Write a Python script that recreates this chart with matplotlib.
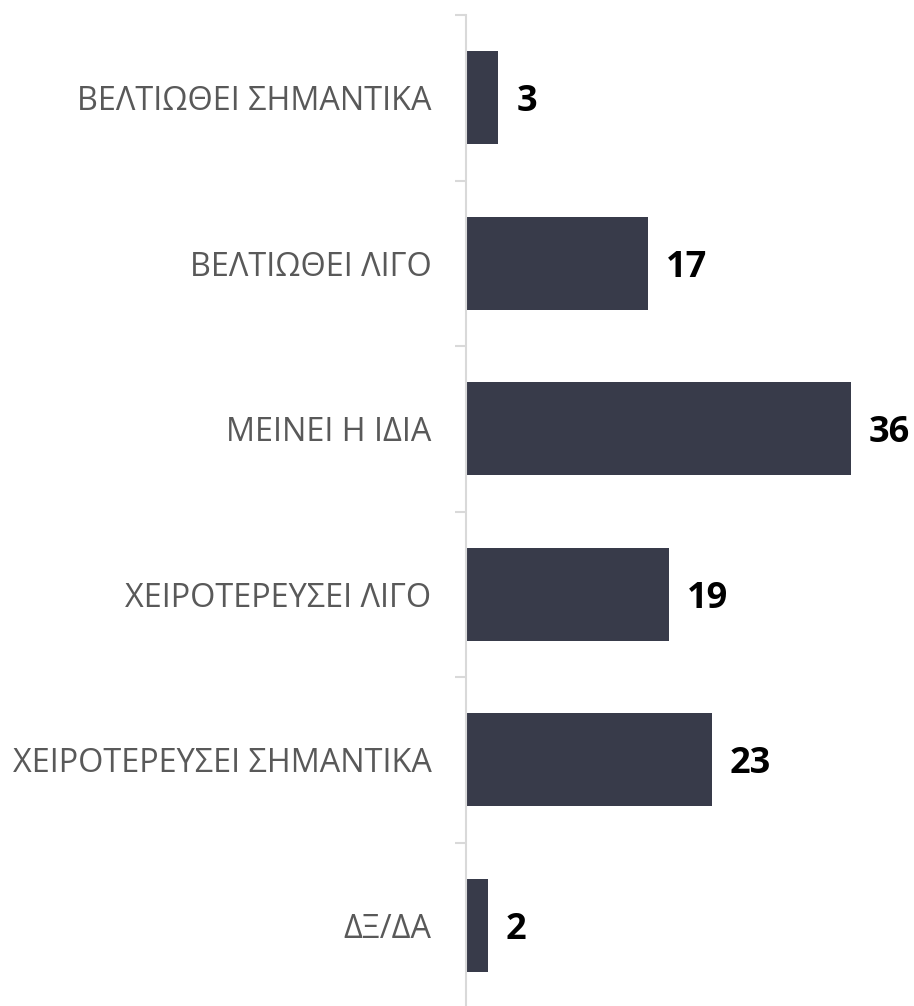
import matplotlib
matplotlib.use("Agg")
import matplotlib.pyplot as plt
import numpy as np

categories = ["ΒΕΛΤΙΩΘΕΙ ΣΗΜΑΝΤΙΚΑ", "ΒΕΛΤΙΩΘΕΙ ΛΙΓΟ", "ΜΕΙΝΕΙ Η ΙΔΙΑ",
              "ΧΕΙΡΟΤΕΡΕΥΣΕΙ ΛΙΓΟ", "ΧΕΙΡΟΤΕΡΕΥΣΕΙ ΣΗΜΑΝΤΙΚΑ", "ΔΞ/ΔΑ"]
values = [3, 17, 36, 19, 23, 2]

fig = plt.figure(figsize=(9.14, 10.06), dpi=100)
ax = fig.add_axes([0.51, -0.002, 0.49, 0.987])

y = np.arange(len(categories))
ax.barh(y, values, height=0.56, color="#383b4a")
ax.set_ylim(len(categories) - 0.5, -0.5)
ax.set_xlim(0, 41.9)

ax.set_yticks(y)
ax.set_yticklabels(categories, fontfamily="Open Sans", fontsize=23.3, color="#595959",
                   va="center_baseline")
ax.set_yticks(np.arange(-0.5, len(categories), 1), minor=True)
ax.tick_params(axis="y", which="major", length=0, pad=25)
ax.tick_params(axis="y", which="minor", length=8, width=1.5, color="#d9d9d9")
ax.set_xticks([])

for s in ["top", "right", "bottom"]:
    ax.spines[s].set_visible(False)
ax.spines["left"].set_color("#d9d9d9")
ax.spines["left"].set_linewidth(1.5)

# value labels next to the bars
for yi, v in zip(y, values):
    ax.annotate(str(v), (v, yi), xytext=(13, 0), textcoords="offset points",
                va="center_baseline", ha="left", fontfamily="Open Sans", fontweight="bold",
                fontsize=26, color="black", annotation_clip=False)

fig.savefig("out.png", dpi=100)
